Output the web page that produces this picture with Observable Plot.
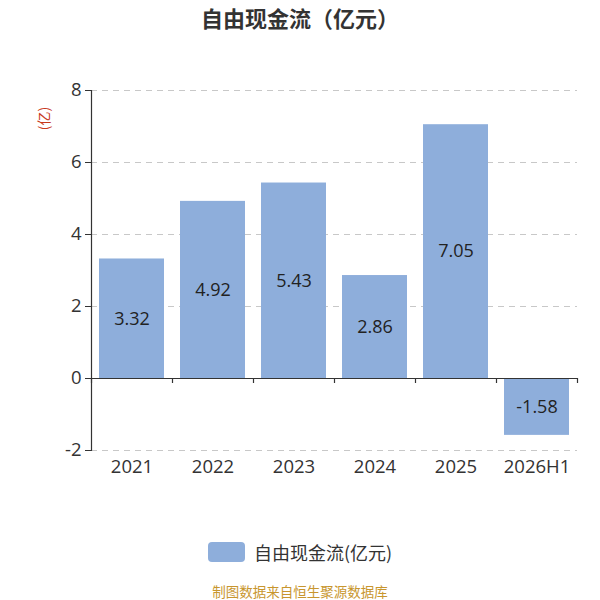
<!DOCTYPE html>
<html>
<head>
<meta charset="utf-8">
<script src="https://cdn.jsdelivr.net/npm/d3@7"></script>
<script src="https://cdn.jsdelivr.net/npm/@observablehq/plot@0.6"></script>
<style>
  html, body { margin: 0; padding: 0; background: #fff; }
  body { width: 600px; height: 600px; overflow: hidden; font-family: "Open Sans", "Noto Sans CJK SC", sans-serif; }
  #title { height: 40px; line-height: 34px; text-align: center; font-size: 22px; font-weight: bold; color: #333; font-family: "Noto Sans CJK SC", sans-serif; }
  #chart svg { display: block; }
  #legend { height: 24px; display: flex; align-items: center; justify-content: center; gap: 9px; font-size: 18px; color: #333; font-family: "Noto Sans CJK SC", sans-serif; }
  #legend .sw { width: 37px; height: 20px; border-radius: 4px; background: #8eaedb; }
  #caption { margin-top: 18px; height: 18px; line-height: 18px; text-align: center; font-size: 13.5px; color: #c8962e; font-family: "Noto Sans CJK SC", sans-serif; }
</style>
</head>
<body>
<div id="title">自由现金流（亿元）</div>
<div id="chart"></div>
<div id="legend"><div class="sw"></div><span>自由现金流(亿元)</span></div>
<div id="caption">制图数据来自恒生聚源数据库</div>
<script>
const categories = ["2021", "2022", "2023", "2024", "2025", "2026H1"];
const values = [3.32, 4.92, 5.43, 2.86, 7.05, -1.58];
const yTicks = [-2, 0, 2, 4, 6, 8];
const gridTicks = [-2, 2, 4, 6, 8];
const seriesName = "自由现金流(亿元)";
const unitLabel = "(亿)";

const data = categories.map((c, i) => ({ year: c, value: values[i] }));

const W = 600, H = 500, mL = 91, mR = 23, mT = 50, mB = 90;
const step = (W - mL - mR) / categories.length;
const font = "'Open Sans', 'Noto Sans CJK SC', sans-serif";

const plot = Plot.plot({
  width: W,
  height: H,
  marginLeft: mL,
  marginRight: mR,
  marginTop: mT,
  marginBottom: mB,
  style: { fontFamily: font, background: "#fff", overflow: "visible" },
  x: { domain: categories, paddingInner: 0.2, paddingOuter: 0.1, label: null },
  y: { domain: [-2, 8], label: null },
  marks: [
    Plot.gridY(gridTicks, { stroke: "#c8c8c8", strokeOpacity: 1, strokeDasharray: "6,5", strokeWidth: 1 }),
    Plot.barY(data, { x: "year", y: "value", fill: "#8eaedb" }),
    Plot.ruleY([0], { stroke: "#333", strokeWidth: 1.2 }),
    Plot.ruleX(categories, { x: d => d, y1: 0, y2: 0, dx: -step / 2, insetBottom: -5, stroke: "#333", strokeWidth: 1.2 }),
    Plot.ruleX(categories.slice(-1), { x: d => d, y1: 0, y2: 0, dx: step / 2, insetBottom: -5, stroke: "#333", strokeWidth: 1.2 }),
    Plot.frame({ anchor: "left", stroke: "#333", strokeWidth: 1.2 }),
    Plot.axisY({ ticks: yTicks, tickSize: 6, tickPadding: 4, fontSize: 18.5, color: "#333", label: null, tickFormat: d => String(d) }),
    Plot.axisX({ tickSize: 0, tickPadding: 9, fontSize: 18.5, color: "#333", label: null }),
    Plot.text(data, { x: "year", y: d => d.value / 2, text: d => d.value.toFixed(2), fontSize: 18, fill: "#222" }),
    Plot.text([unitLabel], { frameAnchor: "top-left", text: d => d, dx: -47, dy: 28, rotate: -90, textAnchor: "middle", lineAnchor: "middle", fontSize: 14, fill: "#c8391c", fontFamily: "'Noto Sans CJK SC', sans-serif" })
  ]
});

document.getElementById("chart").appendChild(plot);
</script>
</body>
</html>
